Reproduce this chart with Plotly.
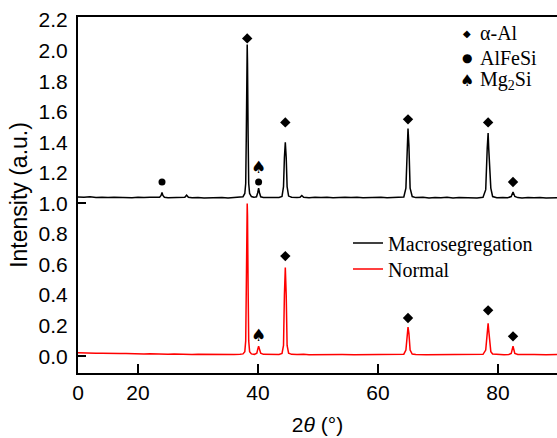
import plotly.graph_objects as go

# ---------------- data ----------------
# Macrosegregation pattern (black, offset by ~1.04)
macro_x = [10, 11, 12, 13, 14, 15, 16, 17, 18, 19, 20, 21, 22, 23,
           23.6, 23.85, 24.0, 24.15, 24.4, 25, 26, 27, 27.8, 28.1, 28.4,
           29, 30, 31, 32, 33, 34, 35, 36, 37,
           37.5, 37.8, 37.95, 38.05, 38.15, 38.2, 38.25, 38.35, 38.45, 38.6, 38.9,
           39.3, 39.75, 39.95, 40.1, 40.25, 40.45, 40.9, 41.5, 42.5, 43.5,
           44.0, 44.25, 44.4, 44.55, 44.7, 44.85, 45.1, 45.6,
           46.5, 47.0, 47.3, 47.6, 48.5, 49.5, 50.5, 51.5, 52.5, 53.5, 54.5,
           55.5, 56.5, 57.5, 58.5, 59.5, 60.5, 61.5, 62.5, 63.5,
           64.3, 64.65, 64.85, 65.0, 65.15, 65.35, 65.7, 66.3,
           67.5, 68.5, 69.5, 70.5, 71.5, 72.5, 73.5, 74.5, 75.5, 76.5,
           77.5, 77.95, 78.2, 78.35, 78.45, 78.55, 78.65, 78.8, 79.1,
           79.8, 80.8, 81.6, 82.2, 82.5, 82.8, 83.3,
           84, 85, 86, 87, 88, 89, 90]
macro_y = [1.042, 1.040, 1.043, 1.039, 1.041, 1.038, 1.041, 1.039, 1.040, 1.037, 1.040, 1.038, 1.041, 1.038,
           1.041, 1.052, 1.072, 1.052, 1.040, 1.037, 1.039, 1.038, 1.040, 1.054, 1.040,
           1.037, 1.039, 1.036, 1.038, 1.037, 1.039, 1.036, 1.038, 1.040,
           1.044, 1.065, 1.13, 1.45, 1.92, 2.04, 1.92, 1.45, 1.13, 1.065, 1.045,
           1.040, 1.043, 1.07, 1.10, 1.07, 1.043, 1.039, 1.038, 1.040, 1.039,
           1.046, 1.11, 1.30, 1.40, 1.30, 1.11, 1.048, 1.040,
           1.038, 1.040, 1.052, 1.040, 1.037, 1.040, 1.038, 1.040, 1.037, 1.039, 1.040,
           1.038, 1.040, 1.037, 1.039, 1.038, 1.040, 1.037, 1.039, 1.038,
           1.042, 1.10, 1.38, 1.49, 1.38, 1.10, 1.045, 1.038,
           1.040, 1.036, 1.039, 1.037, 1.040, 1.036, 1.038, 1.037, 1.039, 1.036,
           1.040, 1.09, 1.36, 1.46, 1.36, 1.25, 1.22, 1.10, 1.045,
           1.037, 1.039, 1.037, 1.045, 1.075, 1.045, 1.038,
           1.036, 1.039, 1.037, 1.039, 1.036, 1.038, 1.037]

# Normal pattern (red)
normal_x = [10, 11, 12, 13, 14, 15, 16, 17, 18, 19, 20, 21, 22, 23, 24, 25, 26, 27, 28, 29,
            30, 31, 32, 33, 34, 35, 36, 37,
            37.5, 37.8, 37.95, 38.05, 38.15, 38.2, 38.25, 38.35, 38.45, 38.6, 38.9,
            39.4, 39.8, 39.95, 40.1, 40.25, 40.45, 40.9, 41.5, 42.5, 43.5,
            44.0, 44.25, 44.4, 44.55, 44.7, 44.85, 45.1, 45.6,
            46.5, 47.0, 47.3, 47.6, 48.5, 50, 52, 54, 56, 58, 60, 62, 63.5,
            64.3, 64.65, 64.85, 65.0, 65.15, 65.35, 65.7, 66.3,
            68, 70, 72, 74, 76, 77.5, 77.95, 78.2, 78.35, 78.45, 78.55, 78.65, 78.8, 79.1,
            80, 81, 81.8, 82.2, 82.5, 82.8, 83.3, 84, 86, 88, 90]
normal_y = [0.022, 0.020, 0.021, 0.019, 0.020, 0.018, 0.019, 0.017, 0.018, 0.016, 0.017, 0.015, 0.016, 0.014,
            0.015, 0.013, 0.014, 0.012, 0.013, 0.011,
            0.012, 0.011, 0.012, 0.010, 0.011, 0.010, 0.011, 0.012,
            0.015, 0.03, 0.10, 0.45, 0.92, 1.00, 0.92, 0.45, 0.10, 0.03, 0.015,
            0.012, 0.02, 0.045, 0.065, 0.045, 0.02, 0.012, 0.011, 0.012, 0.011,
            0.018, 0.07, 0.40, 0.58, 0.40, 0.07, 0.02, 0.012,
            0.011, 0.012, 0.016, 0.012, 0.010, 0.011, 0.010, 0.011, 0.010, 0.011, 0.010, 0.011, 0.011,
            0.013, 0.04, 0.15, 0.19, 0.15, 0.04, 0.014, 0.011,
            0.010, 0.011, 0.010, 0.011, 0.010, 0.012, 0.04, 0.17, 0.215, 0.17, 0.11, 0.08, 0.03, 0.014,
            0.011, 0.010, 0.011, 0.018, 0.065, 0.018, 0.011, 0.010, 0.011, 0.010, 0.011]

# phase labels above peaks
macro_al_x = [38.2, 44.55, 65.0, 78.35, 82.5]
macro_al_y = [2.08, 1.53, 1.55, 1.53, 1.14]
macro_alfesi_x = [24.0, 40.1]
macro_alfesi_y = [1.14, 1.14]
macro_mg2si_x = [40.1]
macro_mg2si_y = [1.23]
normal_al_x = [44.55, 65.0, 78.35, 82.5]
normal_al_y = [0.655, 0.25, 0.30, 0.13]
normal_mg2si_x = [40.1]
normal_mg2si_y = [0.13]

x_tickvals = [10, 20, 40, 60, 80]
x_ticktext = ["0", "20", "40", "60", "80"]
y_tickvals = [0.0, 0.2, 0.4, 0.6, 0.8, 1.0, 1.2, 1.4, 1.6, 1.8, 2.0, 2.2]
y_ticktext = ["0.0", "0.2", "0.4", "0.6", "0.8", "1.0", "1.2", "1.4", "1.6", "1.8", "2.0", "2.2"]

series_names = ["Macrosegregation", "Normal"]
phase_names = ["α-Al", "AlFeSi", "Mg<sub>2</sub>Si"]

# ---------------- figure ----------------
W, H = 557, 438
ML, MR, MT, MB = 78, 0, 17, 65
PW, PH = W - ML - MR, H - MT - MB


def px(p):  # window pixel -> paper x
    return (p - ML) / PW


def py(p):  # window pixel -> paper y
    return (MT + PH - p) / PH


SERIF = "Liberation Serif, Times New Roman, serif"
SANS = "Liberation Sans, Arial, sans-serif"
SYM = "DejaVu Sans, sans-serif"

fig = go.Figure()
fig.add_trace(go.Scatter(x=macro_x, y=macro_y, mode="lines", name=series_names[0],
                         line=dict(color="black", width=1.5), legend="legend"))
fig.add_trace(go.Scatter(x=normal_x, y=normal_y, mode="lines", name=series_names[1],
                         line=dict(color="#ff0000", width=1.5), legend="legend2"))

diamond = dict(symbol="diamond", size=8, color="black", line=dict(width=0))
fig.add_trace(go.Scatter(x=macro_al_x, y=macro_al_y, mode="markers", marker=diamond,
                         showlegend=False, hoverinfo="skip"))
fig.add_trace(go.Scatter(x=normal_al_x, y=normal_al_y, mode="markers", marker=diamond,
                         showlegend=False, hoverinfo="skip"))
fig.add_trace(go.Scatter(x=macro_alfesi_x, y=macro_alfesi_y, mode="markers",
                         marker=dict(symbol="circle", size=7, color="black", line=dict(width=0)),
                         showlegend=False, hoverinfo="skip"))
for xs, ys in [(macro_mg2si_x, macro_mg2si_y), (normal_mg2si_x, normal_mg2si_y)]:
    fig.add_trace(go.Scatter(x=xs, y=ys, mode="text", text=["♠"] * len(xs),
                             textposition="middle center",
                             textfont=dict(family=SYM, size=17, color="black"),
                             showlegend=False, hoverinfo="skip"))

# phase key (top right)
key_syms = ["◆", "●", "♠"]
key_sizes = [10, 12, 16]
key_y = [33, 58, 80]
for s, sz, name, yy in zip(key_syms, key_sizes, phase_names, key_y):
    fig.add_annotation(x=px(467), y=py(yy), xref="paper", yref="paper", text=s,
                       showarrow=False, xanchor="center", yanchor="middle",
                       font=dict(family=SYM, size=sz, color="black"))
    fig.add_annotation(x=px(478), y=py(yy), xref="paper", yref="paper", text=name,
                       showarrow=False, xanchor="left", yanchor="middle",
                       font=dict(family=SERIF, size=20, color="black"))

legend_style = dict(xanchor="left", yanchor="middle", bgcolor="rgba(0,0,0,0)", borderwidth=0,
                    font=dict(family=SERIF, size=20, color="black"), itemwidth=30)

fig.update_layout(
    width=W, height=H,
    margin=dict(l=ML, r=MR, t=MT, b=MB, pad=0, autoexpand=False),
    paper_bgcolor="white", plot_bgcolor="white",
    showlegend=True,
    legend=dict(x=px(348), y=py(243), **legend_style),
    legend2=dict(x=px(348), y=py(269), **legend_style),
    xaxis=dict(range=[10, 89.83], tickmode="array", tickvals=x_tickvals, ticktext=x_ticktext,
               ticks="inside", ticklen=9, tickwidth=1.5, tickcolor="black",
               showline=True, linewidth=2, linecolor="black", mirror=True,
               showgrid=False, zeroline=False, ticklabelstandoff=0,
               tickfont=dict(family=SANS, size=21, color="black"),
               title=dict(text="2<i>θ</i> (°)", font=dict(family=SANS, size=21, color="black"),
                          standoff=14)),
    yaxis=dict(range=[-0.11, 2.22], tickmode="array", tickvals=y_tickvals, ticktext=y_ticktext,
               ticks="", showline=True, linewidth=2, linecolor="black", mirror=False,
               showgrid=False, zeroline=False, ticklabelstandoff=4,
               minor=dict(tickmode="array", tickvals=[0.0, 1.0], ticks="inside", ticklen=8,
                          tickwidth=1.5, tickcolor="black", showgrid=False),
               tickfont=dict(family=SANS, size=21, color="black"),
               title=dict(text="Intensity (a.u.)", font=dict(family=SANS, size=23, color="black"),
                          standoff=5)),
)

# remove the page's default 8 px body margin so the figure fills the window
fig.write_html("out.html", config={"displayModeBar": False},
               post_script="document.body.style.margin='0';document.body.style.overflow='hidden';")
